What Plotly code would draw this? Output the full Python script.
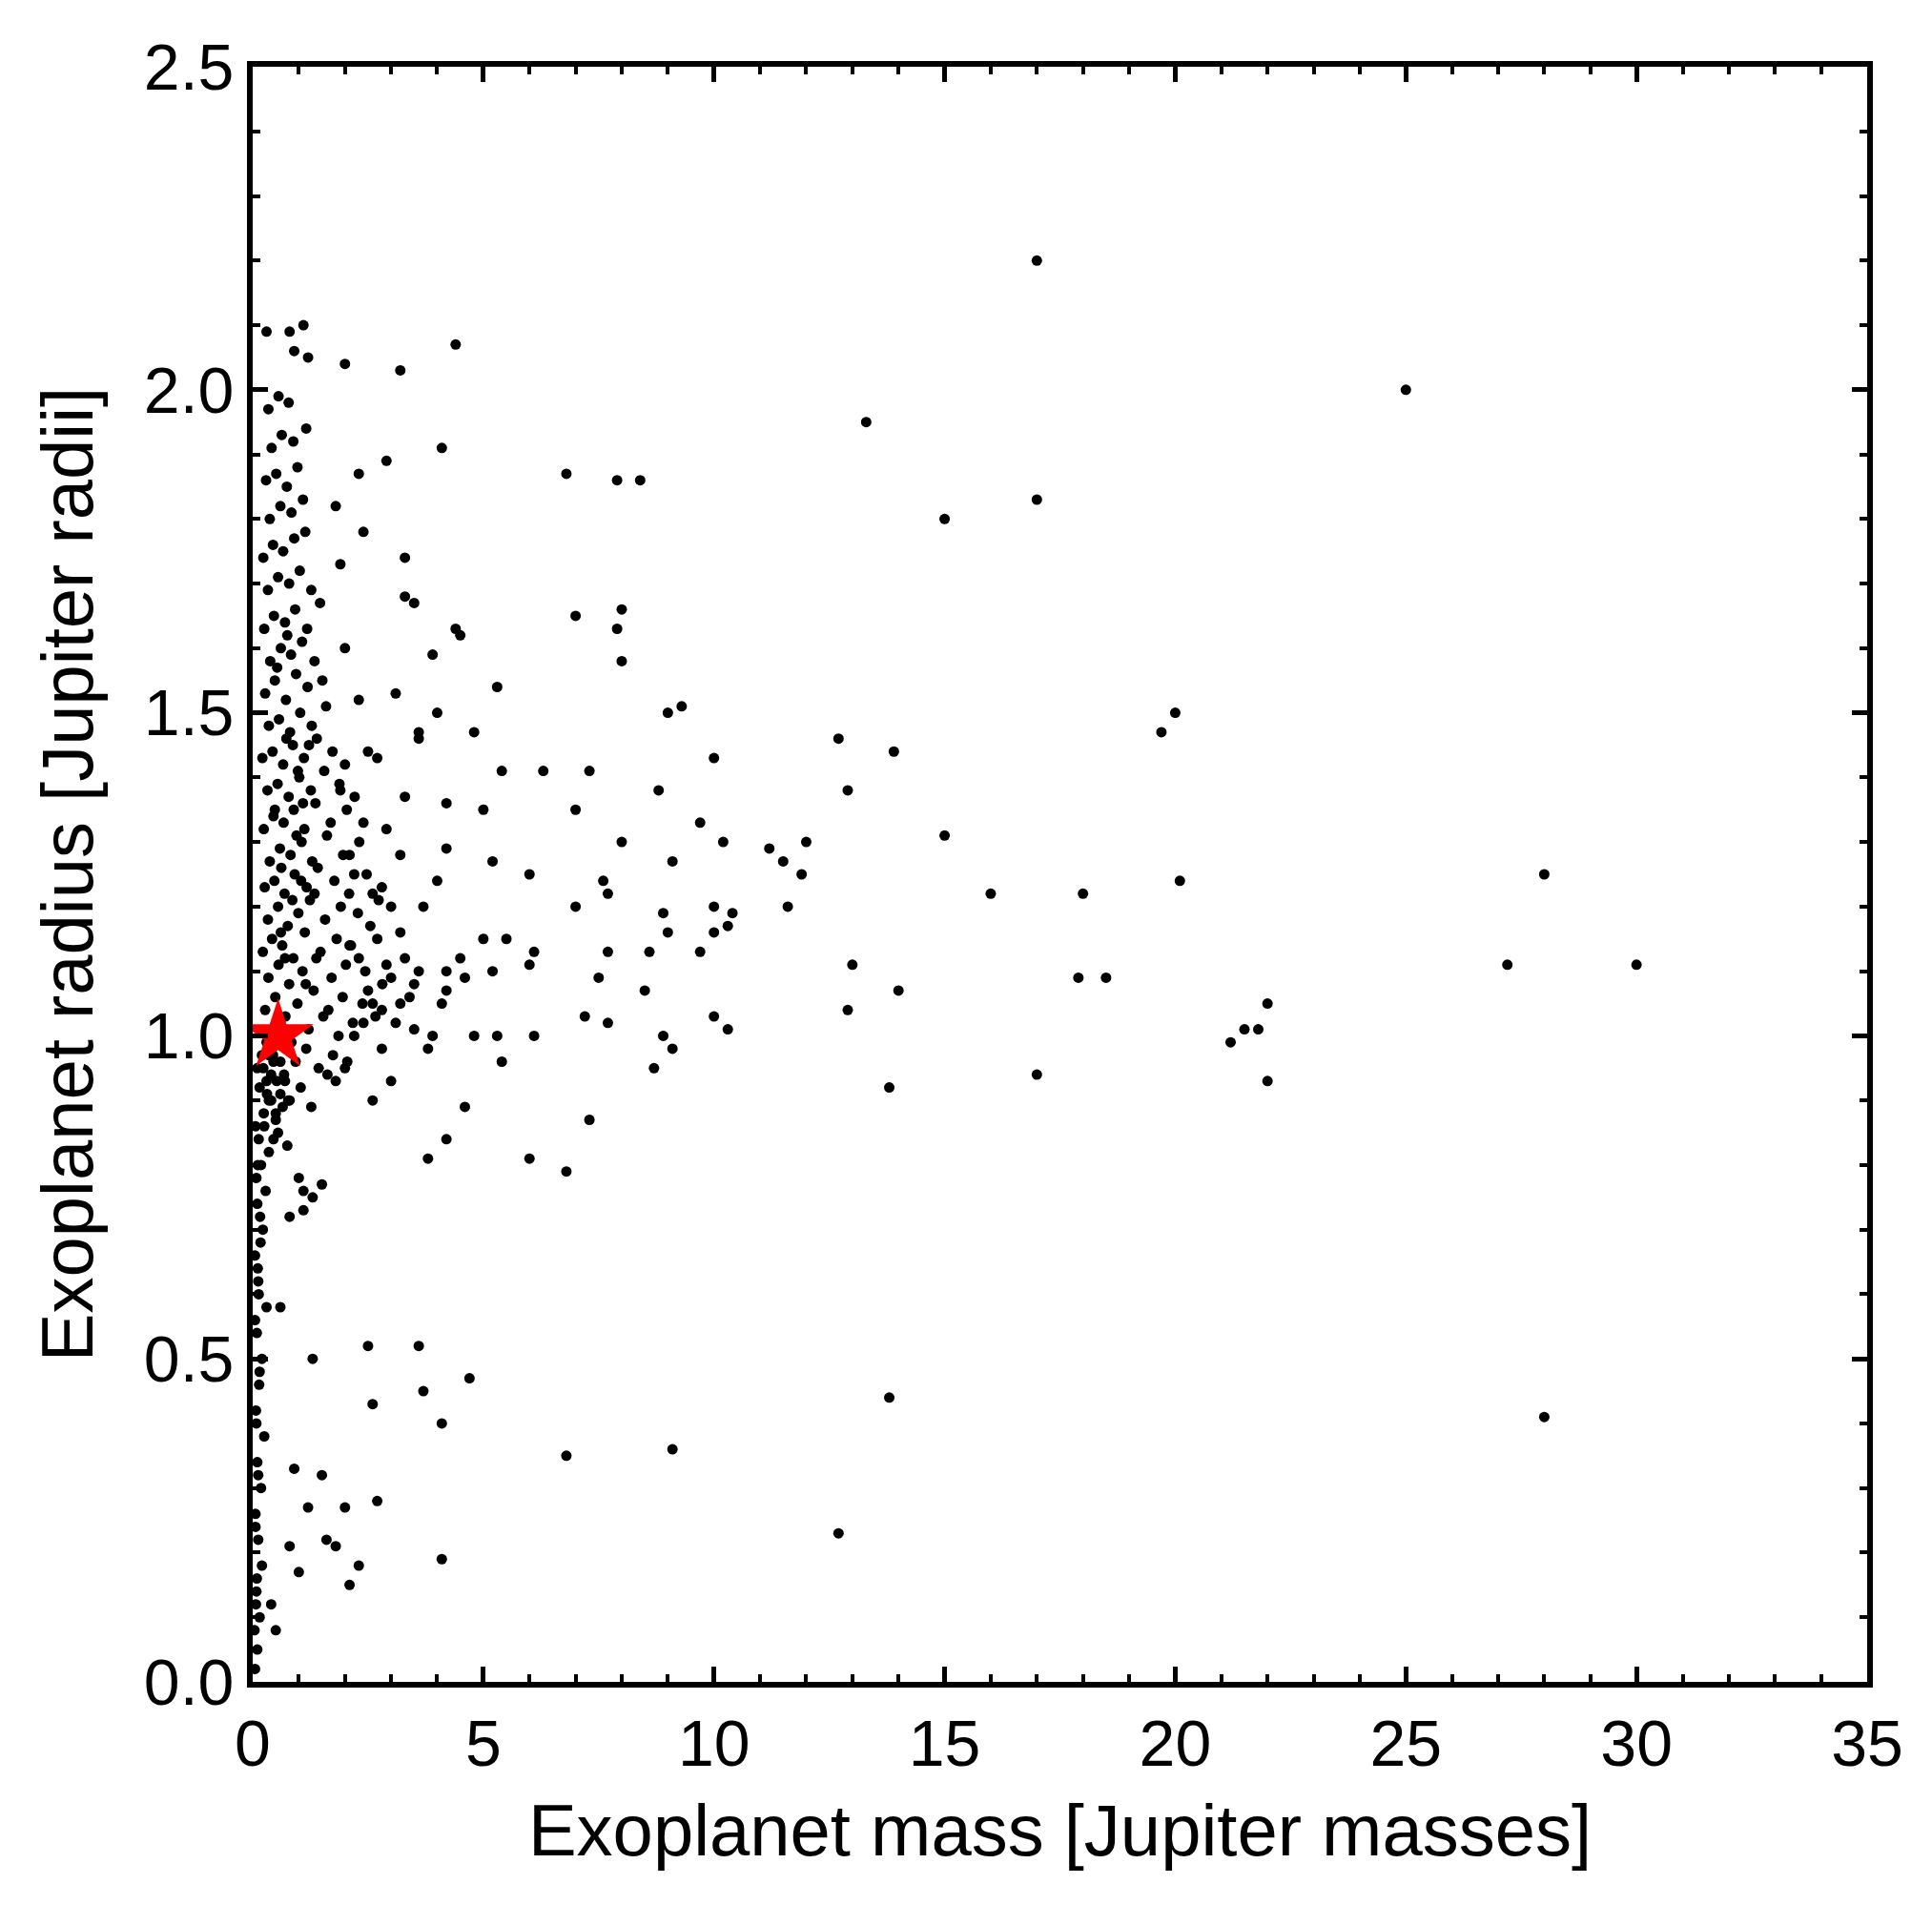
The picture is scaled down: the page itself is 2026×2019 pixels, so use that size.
import plotly.graph_objects as go

# scattered planets: (mass [M_J], radius [R_J])
sparse_points = [
(17,2.2),(25,2.0),(13.3,1.95),(17,1.83),(15,1.8),(7.9,1.86),(8.4,1.86),(6.8,1.87),(4.1,1.91),(3.2,2.03),
(4.4,2.07),(2.0,2.04),(1.1,2.1),(0.8,2.09),(0.3,2.09),(0.9,2.06),(1.2,2.05),(7.0,1.65),(8.0,1.66),(7.9,1.63),
(8.0,1.58),(4.5,1.62),(4.4,1.63),(3.9,1.59),(5.3,1.54),(9.3,1.51),(9.0,1.5),(12.7,1.46),(10.0,1.43),(13.9,1.44),
(19.7,1.47),(20.0,1.5),(6.3,1.41),(7.3,1.41),(8.8,1.38),(12.9,1.38),(9.7,1.33),(15.0,1.31),(12.0,1.3),(11.2,1.29),
(10.2,1.3),(8.0,1.3),(7.0,1.35),(11.5,1.27),(9.1,1.27),(11.9,1.25),(6.0,1.25),(7.6,1.24),(16,1.22),(18,1.22),
(20.1,1.24),(28,1.25),(11.6,1.2),(10.0,1.2),(10.4,1.19),(7.0,1.2),(7.7,1.22),(9.0,1.16),(8.9,1.19),(7.5,1.09),
(7.7,1.13),(8.6,1.13),(9.7,1.13),(10.3,1.17),(10.0,1.16),(13.0,1.11),(14.0,1.07),(17.9,1.09),(18.5,1.09),(27.2,1.11),
(30,1.11),(22,1.05),(21.8,1.01),(21.5,1.01),(21.2,0.99),(22,0.93),(12.9,1.04),(10.3,1.01),(10.0,1.03),(7.7,1.02),
(7.2,1.03),(8.5,1.07),(8.9,1.0),(9.1,0.98),(8.7,0.95),(13.8,0.92),(17,0.94),(6.0,1.11),(6.1,1.13),(6.1,1.0),
(5.3,1.0),(5.2,1.1),(5.5,1.15),(5.0,1.15),(5.4,0.96),(4.8,1.0),(7.3,0.87),(4.6,0.89),(4.2,0.84),(3.8,0.81),
(6.0,0.81),(6.8,0.79),(2.5,0.52),(3.6,0.52),(4.7,0.47),(3.7,0.45),(2.6,0.43),(4.1,0.4),(13.8,0.44),(28,0.41),
(9.1,0.36),(6.8,0.35),(2.7,0.28),(12.7,0.23),(4.1,0.19),(2.3,0.18),(2.1,0.15),(1.3,0.5),(0.9,0.33),(1.5,0.32),
(1.2,0.27),(2.0,0.27),(1.6,0.22),(1.8,0.21),(0.8,0.21),(1.0,0.17),(0.4,0.12),(0.5,0.08),(0.6,0.58),(2.9,1.89),
(2.3,1.87),(2.4,1.78),(3.3,1.74),(4.8,1.47),(3.6,1.47),(3.3,1.68),(3.5,1.67),(4.0,1.5),(3.1,1.53),(3.6,1.46),
(4.2,1.36),(4.2,1.29),(5.2,1.27),(4.0,1.24),(4.5,1.12),(4.2,1.1),(3.9,1.0),(3.8,0.98),(4.1,1.05),(5.0,1.35),
(5.4,1.41),(3.7,1.2),(3.3,1.37),(4.6,1.09),(4.2,1.07),(2.6,0.9),(3.0,0.93),(1.0,0.78),(1.1,0.76),(1.1,0.73),
(1.5,0.77),(1.3,0.75),(0.8,0.72),(3.2,1.28),(3.0,1.09),(2.8,1.04),(3.4,1.06),(3.5,1.08),(3.2,1.16),(2.8,1.23),
(2.9,1.32),(2.7,1.43),(2.2,1.0),(2.4,1.02),(2.1,1.14),(2.5,1.44),(2.0,1.6),(1.9,1.73),(2.6,1.22),(2.1,1.28),
(1.8,1.82),(3.6,1.1),(2.8,0.98),(3.1,1.02),(3.3,1.12),(3.0,1.2),(2.7,1.15),(2.5,1.07),(2.3,1.12),(2.2,1.25),
(2.4,1.33),(2.0,1.42),(2.3,1.52),(1.9,1.38),(2.6,1.05),(3.5,1.01),(3.2,1.05),(2.9,1.11),(2.0,0.95),(1.8,0.93),
]

# dense core of hot Jupiters
core_points = [
(0.31,0.91),(0.52,0.93),(0.77,0.9),(1.04,0.92),(1.27,0.89),(1.62,0.94),(0.23,0.95),(0.44,0.97),(0.68,0.94),(0.93,0.96),
(1.16,0.98),(1.43,0.95),(1.74,0.97),(2.05,0.96),(0.36,1.0),(0.58,1.02),(0.84,0.99),(1.21,1.01),(1.53,1.03),(1.86,1.0),
(2.17,1.02),(0.27,1.04),(0.49,1.06),(0.71,1.03),(0.97,1.05),(1.32,1.07),(1.64,1.04),(1.95,1.06),(2.38,1.05),(2.66,1.03),
(0.34,1.09),(0.56,1.11),(0.79,1.08),(1.08,1.1),(1.38,1.12),(1.71,1.09),(2.02,1.11),(2.44,1.1),(2.81,1.08),(0.22,1.13),
(0.42,1.15),(0.64,1.14),(0.88,1.12),(1.13,1.16),(1.47,1.13),(1.82,1.15),(2.13,1.14),(2.55,1.17),(0.33,1.18),(0.55,1.2),
(0.76,1.17),(0.99,1.19),(1.24,1.21),(1.57,1.18),(1.91,1.2),(2.28,1.19),(2.73,1.21),(0.26,1.23),(0.47,1.24),(0.69,1.22),
(0.91,1.25),(1.17,1.23),(1.41,1.26),(1.77,1.24),(2.09,1.22),(2.47,1.25),(0.37,1.27),(0.59,1.29),(0.82,1.28),(1.06,1.3),
(1.29,1.27),(1.61,1.31),(1.96,1.28),(2.31,1.3),(0.24,1.32),(0.45,1.34),(0.67,1.33),(0.89,1.35),(1.12,1.32),(1.36,1.36),
(1.69,1.33),(2.04,1.35),(0.32,1.38),(0.54,1.39),(0.78,1.37),(1.01,1.4),(1.26,1.38),(1.55,1.41),(1.88,1.39),(2.21,1.37),
(0.21,1.43),(0.43,1.44),(0.66,1.42),(0.87,1.45),(1.11,1.43),(1.39,1.46),(1.73,1.44),(0.35,1.48),(0.57,1.49),(0.81,1.47),
(1.03,1.5),(1.28,1.48),(1.59,1.51),(0.27,1.53),(0.48,1.55),(0.72,1.52),(0.94,1.56),(1.19,1.54),(1.51,1.55),(0.38,1.58),
(0.61,1.6),(0.83,1.59),(1.07,1.61),(1.34,1.58),(0.25,1.63),(0.46,1.65),(0.7,1.64),(0.92,1.66),(1.18,1.63),(1.46,1.67),
(0.33,1.69),(0.55,1.71),(0.79,1.7),(1.02,1.72),(1.27,1.69),(0.23,1.74),(0.44,1.76),(0.66,1.75),(0.9,1.77),(1.14,1.78),
(0.37,1.8),(0.6,1.82),(0.84,1.81),(1.09,1.83),(0.29,1.86),(0.51,1.87),(0.74,1.85),(0.97,1.88),(0.41,1.91),(0.63,1.93),
(0.88,1.92),(1.16,1.94),(0.34,1.97),(0.56,1.99),(0.78,1.98),(0.62,1.26),(0.86,1.21),(1.09,1.36),(0.73,1.46),(0.95,1.31),
(1.22,1.45),(0.53,1.57),(0.75,1.62),(0.98,1.41),(1.34,1.22),(0.61,1.16),(1.15,1.08),(0.48,1.35),(0.7,1.12),(1.05,1.24),
]

# low-mass spine near zero mass
spine_points = [
(0.05,0.02),(0.1,0.05),(0.15,0.1),(0.08,0.14),(0.2,0.18),(0.12,0.22),(0.06,0.26),(0.18,0.3),(0.1,0.34),(0.25,0.38),
(0.07,0.42),(0.14,0.46),(0.2,0.5),(0.09,0.54),(0.3,0.58),(0.12,0.62),(0.05,0.66),(0.22,0.7),(0.16,0.72),(0.1,0.74),
(0.28,0.76),(0.08,0.78),(0.18,0.8),(0.35,0.82),(0.13,0.84),(0.06,0.86),(0.24,0.88),(0.4,0.9),(0.15,0.92),(0.3,0.93),
(0.1,0.95),(0.45,0.96),(0.2,0.97),(0.5,0.88),(0.35,0.9),(0.25,0.86),(0.6,0.91),(0.4,0.94),(0.55,0.85),(0.3,0.99),
(0.65,0.89),(0.45,0.84),(0.7,0.93),(0.5,0.87),(0.35,0.97),(0.8,0.9),(0.6,0.96),(0.75,0.83),(0.04,0.08),(0.09,0.16),
(0.06,0.24),(0.12,0.32),(0.08,0.4),(0.15,0.48),(0.05,0.56),(0.11,0.64),(0.07,0.12),(0.13,0.6),(0.17,0.68),(0.11,0.8),
]

mass_sparse = [p[0] for p in sparse_points]
radius_sparse = [p[1] for p in sparse_points]
mass_core = [p[0] for p in core_points]
radius_core = [p[1] for p in core_points]
mass_spine = [p[0] for p in spine_points]
radius_spine = [p[1] for p in spine_points]

jupiter_mass = [0.55]
jupiter_radius = [1.0]

all_m = mass_sparse + mass_core + mass_spine
all_r = radius_sparse + radius_core + radius_spine

fig = go.Figure()
fig.add_trace(go.Scatter(x=all_m, y=all_r, mode="markers",
                         marker=dict(color="black", size=11), showlegend=False))
fig.add_trace(go.Scatter(x=jupiter_mass, y=jupiter_radius, mode="markers",
                         marker=dict(color="red", size=56, symbol="star"), showlegend=False))

font = "Liberation Sans, Arial"
axis_common = dict(showline=True, linewidth=6, linecolor="black", mirror="ticks",
                   ticks="inside", ticklen=16, tickwidth=5, tickcolor="black",
                   showgrid=False, zeroline=False,
                   tickfont=dict(family=font, size=68, color="black"),
                   title_font=dict(family=font, size=76, color="black"))
fig.update_xaxes(range=[0, 35], dtick=5, title_text="Exoplanet mass [Jupiter masses]",
                 minor=dict(dtick=1, ticks="inside", ticklen=8, tickwidth=4, tickcolor="black"),
                 title_standoff=30, **axis_common)
fig.update_yaxes(range=[0, 2.5], dtick=0.5, tickformat=".1f", title_text="Exoplanet radius [Jupiter radii]",
                 minor=dict(dtick=0.1, ticks="inside", ticklen=8, tickwidth=4, tickcolor="black"),
                 title_standoff=30, **axis_common)
fig.update_layout(width=2026, height=2019, plot_bgcolor="white", paper_bgcolor="white",
                  margin=dict(l=257, r=76, t=62, b=263))
fig.write_html("out.html")
